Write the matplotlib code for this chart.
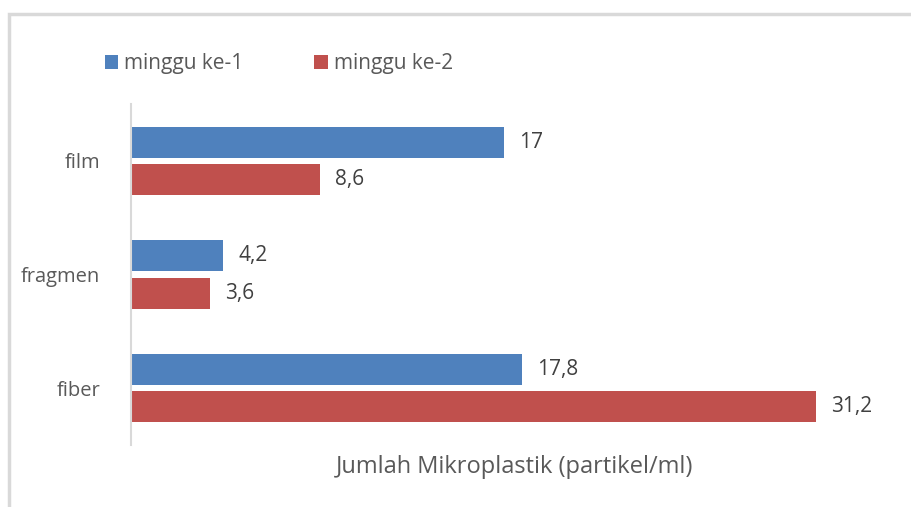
import matplotlib
matplotlib.use("Agg")
import matplotlib.pyplot as plt
from matplotlib.patches import Rectangle
import numpy as np

plt.rcParams['font.family'] = ['Open Sans', 'DejaVu Sans']

# Data
categories = ["film", "fragmen", "fiber"]
minggu_1 = [17, 4.2, 17.8]
minggu_2 = [8.6, 3.6, 31.2]
series_names = ["minggu ke-1", "minggu ke-2"]

blue = "#4F81BD"
red = "#C0504D"
text_col = "#595959"
grid_col = "#D9D9D9"

fig = plt.figure(figsize=(9.12, 5.07), dpi=100)
ax = fig.add_axes([131 / 912, 1 - 445 / 507, (899 - 131) / 912, (445 - 104) / 507])

y = np.arange(len(categories))
h = 0.272
off = 0.165
b1 = ax.barh(y - off, minggu_1, height=h, color=blue, label=series_names[0])
b2 = ax.barh(y + off, minggu_2, height=h, color=red, label=series_names[1])

def fmt(v):
    s = f"{v:g}"
    return s.replace(".", ",")

for bars, vals in ((b1, minggu_1), (b2, minggu_2)):
    for bar, v in zip(bars, vals):
        ax.text(v + 0.7, bar.get_y() + bar.get_height() / 2, fmt(v),
                va="center", ha="left", fontsize=15, color="#404040")

ax.set_xlim(0, 35)
ax.set_ylim(2.5, -0.5)
ax.set_yticks(y)
ax.set_yticklabels(categories, fontsize=14.5, color=text_col)
ax.tick_params(axis="y", length=0, pad=22)
ax.set_xticks([])
for s in ["top", "right", "bottom"]:
    ax.spines[s].set_visible(False)
ax.spines["left"].set_color(grid_col)
ax.spines["left"].set_linewidth(1.5)

fig.text(515 / 912, 1 - 467 / 507, "Jumlah Mikroplastik (partikel/ml)",
         ha="center", va="center", fontsize=17, color=text_col)

ax.legend(loc="center", bbox_to_anchor=(279 / 912, 1 - 64 / 507), bbox_transform=fig.transFigure,
          ncol=2, frameon=False, fontsize=15, labelcolor=text_col,
          handlelength=0.65, handleheight=0.65, handletextpad=0.3, columnspacing=3.4)

# outer chart border
fig.add_artist(Rectangle((9 / 912, -0.1), 1.2, 1 - 14 / 507 + 0.1, transform=fig.transFigure,
                         fill=False, edgecolor=grid_col, linewidth=2.5))

fig.savefig("out.png", dpi=100)
